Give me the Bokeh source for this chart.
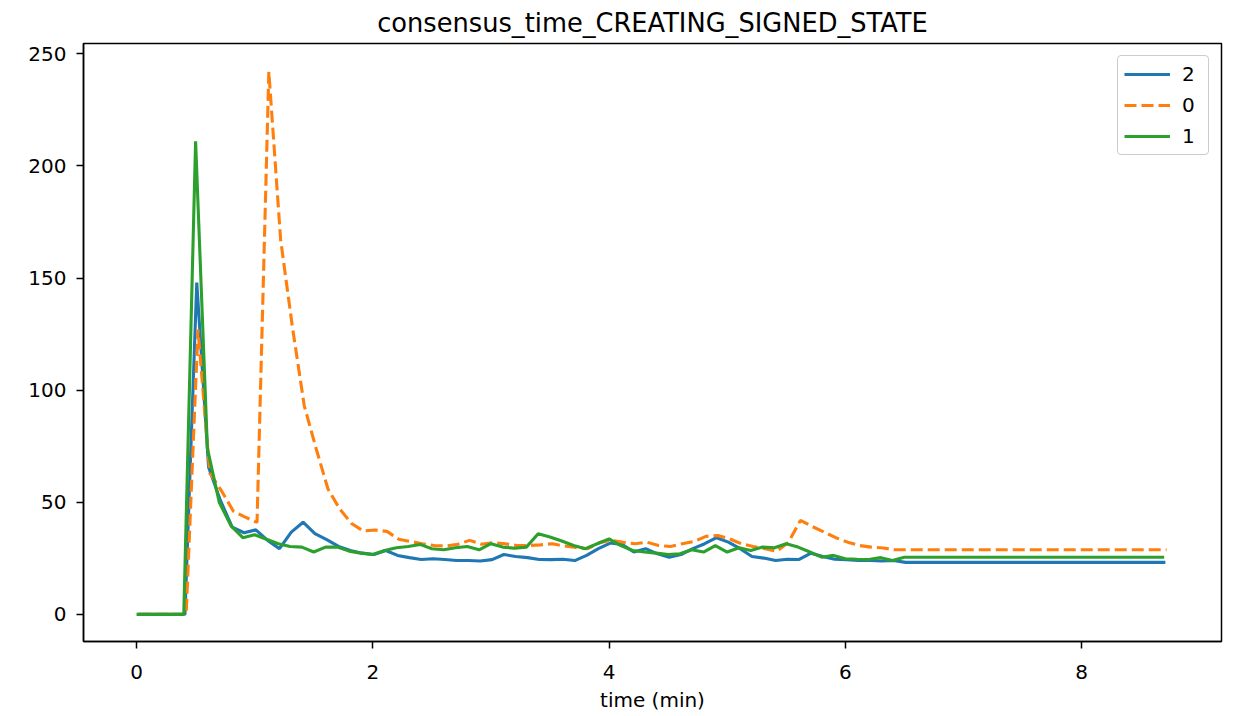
from bokeh.plotting import figure
from bokeh.models import Range1d, Legend, LegendItem, FixedTicker, ColumnDataSource
from bokeh.embed import file_html
from bokeh.resources import INLINE

# ---- data (minutes since start, sampled every ~0.1 min) ----
sample_min = [0.0, 0.1, 0.2, 0.3, 0.4, 0.5, 0.6, 0.7, 0.8, 0.9,
              1.0, 1.1, 1.2, 1.3, 1.4, 1.5, 1.6, 1.7, 1.8, 1.9,
              2.0, 2.1, 2.2, 2.3, 2.4, 2.5, 2.6, 2.7, 2.8, 2.9,
              3.0, 3.1, 3.2, 3.3, 3.4, 3.5, 3.6, 3.7, 3.8, 3.9,
              4.0, 4.1, 4.2, 4.3, 4.4, 4.5, 4.6, 4.7, 4.8, 4.9,
              5.0, 5.1, 5.2, 5.3, 5.4, 5.5, 5.6, 5.7, 5.8, 5.9,
              6.0, 6.1, 6.2, 6.3, 6.4, 6.5, 6.6, 6.7, 6.8, 6.9,
              7.0, 7.1, 7.2, 7.3, 7.4, 7.5, 7.6, 7.7, 7.8, 7.9,
              8.0, 8.1, 8.2, 8.3, 8.4, 8.5, 8.6, 8.7]

# per-node sampling offset (min)
offset_node2 = 0.01
offset_node0 = 0.02
offset_node1 = 0.0

node2 = [0, 0, 0, 0, 0, 148, 65.6, 50.8, 38.9, 36.4,
         37.7, 33, 29.3, 36.7, 41.1, 36, 33.3, 30.3, 28.5, 27.3,
         26.7, 28.5, 26.3, 25.3, 24.5, 24.8, 24.5, 24, 24, 23.8,
         24.4, 26.7, 25.8, 25.3, 24.5, 24.4, 24.6, 24, 26.3, 29.3,
         31.8, 31.2, 27.8, 29.3, 27, 25.5, 26.7, 29.3, 31.5, 34.2,
         32.2, 29.3, 25.8, 25.1, 24, 24.6, 24.5, 27.3, 25.8, 24.6,
         24.4, 24, 24, 23.8, 24, 23.2, 23.2, 23.2, 23.2, 23.2,
         23.2, 23.2, 23.2, 23.2, 23.2, 23.2, 23.2, 23.2, 23.2, 23.2,
         23.2, 23.2, 23.2, 23.2, 23.2, 23.2, 23.2, 23.2]

node0 = [0, 0, 0, 0, 0, 127, 63, 55, 46, 43.4,
         41, 242, 167, 128, 93, 74, 56, 47, 40.5, 37.2,
         37.6, 37, 33.5, 32.5, 31.5, 30.7, 30.5, 31.3, 33, 31.3,
         32, 31.5, 30.7, 30.7, 31, 31.5, 30.5, 29.8, 29.3, 32,
         33, 32.2, 31.5, 32.2, 30.7, 30.3, 31.5, 32.5, 34.8, 35.2,
         33.7, 31.5, 30.3, 29.3, 28.2, 32.2, 41.9, 39.2, 36.7, 34.2,
         32.2, 30.7, 30, 29.6, 28.8, 28.8, 28.8, 28.8, 28.8, 28.8,
         28.8, 28.8, 28.8, 28.8, 28.8, 28.8, 28.8, 28.8, 28.8, 28.8,
         28.8, 28.8, 28.8, 28.8, 28.8, 28.8, 28.8, 28.8]

node1 = [0, 0, 0, 0, 0, 211, 74, 50, 39.5, 34.2,
         35.5, 33.5, 31.5, 30.3, 30, 27.8, 30, 30, 28.2, 27.3,
         26.7, 28.5, 29.7, 30.3, 31.2, 29.3, 28.8, 29.7, 30.3, 28.8,
         31.5, 30, 29.5, 30, 36, 34.5, 32.7, 30.7, 29.3, 31.5,
         33.7, 30.7, 28.5, 27.8, 27.3, 26.7, 27, 28.8, 27.8, 30.7,
         27.8, 29.7, 28.5, 30, 29.7, 31.5, 30, 27.8, 25.5, 26.3,
         24.8, 24.6, 24.5, 25.3, 24, 25.5, 25.5, 25.5, 25.5, 25.5,
         25.5, 25.5, 25.5, 25.5, 25.5, 25.5, 25.5, 25.5, 25.5, 25.5,
         25.5, 25.5, 25.5, 25.5, 25.5, 25.5, 25.5, 25.5]

x_ticks = [0, 2, 4, 6, 8]
y_ticks = [0, 50, 100, 150, 200, 250]
title_text = "consensus_time_CREATING_SIGNED_STATE"
x_label = "time (min)"

FONT = "DejaVu Sans"

p = figure(width=1233, height=714, output_backend="svg", toolbar_location=None,
           x_range=Range1d(-0.449, 9.185), y_range=Range1d(-12.1, 254.6),
           min_border_left=83, min_border_right=12, min_border_top=43,
           min_border_bottom=73, title=title_text)

p.title.text_font = FONT
p.title.text_font_size = "25.7px"
p.title.text_font_style = "normal"
p.title.align = "center"
p.title.text_color = "black"
p.title.standoff = 11

p.background_fill_color = "white"
p.border_fill_color = "white"
p.outline_line_color = "black"
p.outline_line_width = 1.5
p.outline_line_alpha = 1.0

p.xgrid.visible = False
p.ygrid.visible = False

p.xaxis.ticker = FixedTicker(ticks=x_ticks)
p.yaxis.ticker = FixedTicker(ticks=y_ticks)
p.xaxis.axis_label = x_label

for ax in (p.xaxis, p.yaxis):
    ax.axis_line_color = "black"
    ax.axis_line_width = 1.5
    ax.major_tick_line_color = "black"
    ax.major_tick_line_width = 1.5
    ax.major_tick_out = 7
    ax.major_tick_in = 0
    ax.minor_tick_line_color = None
    ax.major_label_text_font = FONT
    ax.major_label_text_font_size = "20px"
    ax.major_label_text_color = "black"
    ax.axis_label_text_font = FONT
    ax.axis_label_text_font_size = "20px"
    ax.axis_label_text_font_style = "normal"
    ax.axis_label_text_color = "black"

p.xaxis.major_label_standoff = 16
p.yaxis.major_label_standoff = 10
p.xaxis.axis_label_standoff = 6

src2 = ColumnDataSource(dict(t=[round(v + offset_node2, 3) for v in sample_min], y=node2))
src0 = ColumnDataSource(dict(t=[round(v + offset_node0, 3) for v in sample_min], y=node0))
src1 = ColumnDataSource(dict(t=[round(v + offset_node1, 3) for v in sample_min], y=node1))

r2 = p.line("t", "y", source=src2, line_color="#1f77b4", line_width=3.1)
r0 = p.line("t", "y", source=src0, line_color="#ff7f0e", line_width=3.1, line_dash="12 5")
r1 = p.line("t", "y", source=src1, line_color="#2ca02c", line_width=3.1)

legend = Legend(items=[LegendItem(label="2", renderers=[r2]),
                       LegendItem(label="0", renderers=[r0]),
                       LegendItem(label="1", renderers=[r1])],
                location="top_right")
legend.label_text_font = FONT
legend.label_text_font_size = "20px"
legend.label_text_color = "black"
legend.border_line_color = "#cccccc"
legend.border_line_width = 1.2
legend.border_line_alpha = 1.0
legend.background_fill_color = "white"
legend.background_fill_alpha = 0.8
legend.glyph_width = 46
legend.glyph_height = 20
legend.label_height = 20
legend.spacing = 7
legend.padding = 6
legend.margin = 12
legend.label_standoff = 12
try:
    legend.border_radius = 4
except Exception:
    pass
p.add_layout(legend)

open("out.html", "w").write(file_html(p, INLINE))
